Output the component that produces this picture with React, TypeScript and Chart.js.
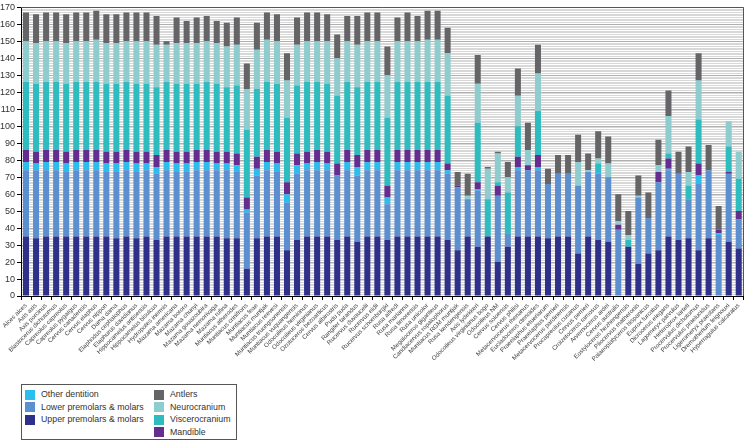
import React, { useEffect, useRef } from 'react';
import { Chart, registerables } from 'chart.js';

Chart.register(...registerables);

const species = [
  'Alces alces', 'Axis axis', 'Axis porcinus', 'Blastocerus dichotomus', 'Capreolus capreolus',
  'Capreolus pygargus', 'Cervus canadensis', 'Cervus elaphus', 'Cervus nippon', 'Dama dama',
  'Elaphodus cephalophus', 'Elaphurus davidianus', 'Hippocamelus antisensis', 'Hippocamelus bisulcus', 'Hydropotes inermis',
  'Mazama americana', 'Mazama bororo', 'Mazama chunyi', 'Mazama gouazoubira', 'Mazama nemorivaga',
  'Mazama rufina', 'Muntiacus atherodes', 'Muntiacus crinifrons', 'Muntiacus feae', 'Muntiacus muntjak',
  'Muntiacus reevesi', 'Muntiacus truongsonensis', 'Muntiacus vuquangensis', 'Odocoileus hemionus', 'Odocoileus virginianus',
  'Ozotoceros bezoarticus', 'Cervus albirostris', 'Pudu puda', 'Rangifer tarandus', 'Rucervus duvaucelii',
  'Rucervus eldii', 'Rucervus schomburgki', 'Rusa alfredi', 'Rusa marianna', 'Rusa timorensis',
  'Rusa unicolor', 'Megaloceros giganteus', 'Candiacervus ropalophorus', 'Muntiacus RGM muntjak', 'Rusa kendengensis',
  'Axis lydekkeri', 'Odocoileus virginianus bogo', 'Odocoileus NM', 'Cervus soloensis', 'Cervus philisi',
  'Metacervocerus rhenanus', 'Eucladoceros ctenoides', 'Praeelaphus etueriarum', 'Praeelaphus perrieri', 'Metacervocerus pardinensis',
  'Procapreolus cusanus', 'Cervus perrieri', 'Croizetoceros ramosus', 'Arvernoceros ardei', 'Cervus australis',
  'Eostyloceros hezhengensis', 'Pliocervus matheronis', 'Palaeoplatyceros hispanicus', 'Euprox furcatus', 'Dicrocerus elegans',
  'Lagomeryx parvulus', 'Heteroprox larteti', 'Procervulus dichotomus', 'Procervulus praelucidus', 'Ligeromeryx praestans',
  'Dremotherium feignouxi', 'Hyperragulus calcaratus'
];

const upperPremolarsMolars = [
  35, 34, 35, 35, 35, 35, 35, 35, 35, 34,
  35, 34, 35, 33, 35, 35, 35, 35, 35, 35,
  34, 34, 16, 34, 35, 35, 27, 33, 35, 35,
  35, 33, 35, 32, 35, 35, 33, 35, 35, 35,
  35, 35, 33, 27, 35, 29, 35, 20, 29, 35,
  35, 35, 34, 35, 35, 25, 35, 33, 32, 0,
  29, 19, 25, 27, 35, 33, 34, 27, 34, 0,
  32, 28
];
const lowerPremolarsMolars = [
  39, 40, 39, 39, 38, 39, 39, 39, 38, 39,
  39, 39, 39, 39, 39, 38, 38, 39, 39, 39,
  40, 39, 33, 37, 39, 38, 28, 39, 39, 39,
  39, 38, 39, 39, 39, 39, 21, 39, 39, 39,
  39, 39, 39, 37, 22, 33, 0, 39, 8, 39,
  39, 39, 32, 37, 37, 40, 38, 39, 38, 39,
  0, 39, 21, 40, 39, 39, 23, 39, 40, 36,
  40, 17
];
const otherDentition = [
  5, 4, 5, 5, 5, 5, 5, 5, 5, 5,
  5, 5, 4, 4, 5, 5, 5, 5, 5, 4,
  4, 4, 2, 4, 5, 5, 5, 5, 4, 5,
  4, 0, 5, 5, 5, 5, 4, 5, 5, 5,
  5, 5, 2, 0, 0, 1, 0, 0, 0, 2,
  0, 2, 0, 0, 0, 0, 0, 1, 0, 0,
  0, 0, 0, 0, 1, 0, 0, 5, 0, 1,
  0, 0
];
const mandible = [
  7, 7, 7, 7, 7, 7, 7, 7, 7, 7,
  7, 7, 7, 7, 7, 7, 7, 7, 7, 7,
  7, 7, 7, 7, 7, 7, 7, 7, 7, 7,
  7, 7, 7, 7, 7, 7, 7, 7, 7, 7,
  7, 7, 4, 1, 0, 4, 0, 6, 0, 6,
  3, 7, 0, 0, 0, 0, 0, 0, 0, 3,
  0, 0, 0, 6, 6, 0, 0, 7, 0, 2,
  1, 5
];
const viscerocranium = [
  40, 40, 40, 40, 40, 40, 40, 40, 40, 40,
  40, 40, 40, 40, 40, 40, 40, 39, 40, 40,
  38, 40, 40, 40, 40, 40, 38, 40, 41, 40,
  40, 40, 40, 40, 40, 40, 40, 40, 40, 40,
  40, 40, 40, 0, 0, 35, 22, 2, 24, 18,
  0, 26, 0, 0, 0, 0, 0, 5, 0, 0,
  4, 0, 0, 0, 3, 0, 8, 26, 0, 0,
  15, 19
];
const neurocranium = [
  24, 24, 24, 24, 24, 24, 24, 25, 24, 24,
  24, 25, 25, 25, 22, 24, 24, 24, 24, 24,
  24, 24, 24, 23, 25, 25, 22, 24, 24, 24,
  25, 22, 24, 25, 24, 24, 25, 24, 24, 24,
  25, 25, 25, 0, 2, 23, 18, 17, 9, 18,
  9, 22, 0, 0, 0, 14, 1, 3, 8, 2,
  3, 1, 0, 4, 22, 0, 8, 23, 0, 0,
  15, 16
];
const antlers = [
  17, 17, 17, 17, 17, 17, 17, 17, 17, 17,
  17, 17, 17, 17, 2, 15, 13, 15, 15, 13,
  14, 16, 15, 16, 16, 16, 16, 16, 17, 17,
  16, 14, 15, 17, 17, 17, 17, 14, 17, 15,
  17, 17, 15, 8, 13, 17, 1, 1, 9, 16,
  16, 17, 9, 11, 11, 16, 10, 16, 16, 16,
  14, 12, 15, 15, 15, 13, 15, 16, 15, 14,
  0, 0
];

const seriesNames = [
  'Upper premolars & molars', 'Lower premolars & molars', 'Other dentition', 'Mandible',
  'Viscerocranium', 'Neurocranium', 'Antlers'
];
const seriesColors = ['#2e3089', '#5b8fcf', '#2cbcee', '#662d91', '#2fbcbf', '#8ecccd', '#656567'];
const seriesData = [
  upperPremolarsMolars, lowerPremolarsMolars, otherDentition, mandible,
  viscerocranium, neurocranium, antlers
];
// legend columns (indices into series arrays)
const legendCol1 = [2, 1, 0];
const legendCol2 = [6, 5, 4, 3];

const Y_MAX = 170;
const FONT = '"Liberation Sans", Arial, Helvetica, sans-serif';

const framePlugin = {
  id: 'frame',
  afterDraw(chart: any) {
    const { ctx, chartArea } = chart;
    ctx.save();
    ctx.strokeStyle = '#555';
    ctx.lineWidth = 1;
    ctx.beginPath();
    ctx.moveTo(chartArea.left, Math.round(chartArea.top) + 0.5);
    ctx.lineTo(Math.round(chartArea.right) - 0.5, Math.round(chartArea.top) + 0.5);
    ctx.lineTo(Math.round(chartArea.right) - 0.5, chartArea.bottom);
    ctx.stroke();
    ctx.restore();
  }
};

export default function App() {
  const ref = useRef<HTMLCanvasElement>(null);

  useEffect(() => {
    if (!ref.current) return;
    const datasets = seriesData.map((d, i) => ({
      label: seriesNames[i],
      data: d,
      backgroundColor: seriesColors[i],
      borderWidth: 0,
      barPercentage: 0.6,
      categoryPercentage: 1
    }));
    const chart = new Chart(ref.current, {
      type: 'bar',
      data: { labels: species, datasets },
      options: {
        animation: false,
        responsive: false,
        maintainAspectRatio: false,
        layout: { padding: { left: 0, right: 1.5, top: 0, bottom: 0 } },
        plugins: { legend: { display: false }, tooltip: { enabled: false } },
        scales: {
          x: {
            stacked: true,
            offset: true,
            grid: { drawOnChartArea: false, color: '#000', tickLength: 4, offset: true },
            border: { color: '#000', width: 1 },
            ticks: {
              autoSkip: false,
              minRotation: 45,
              maxRotation: 45,
              padding: 2,
              color: '#444',
              font: { family: FONT, size: 6.2 }
            },
            afterFit: (s: any) => { s.height = 88; }
          },
          y: {
            stacked: true,
            min: 0,
            max: Y_MAX,
            ticks: {
              stepSize: 1,
              autoSkip: false,
              padding: 2,
              color: '#333',
              font: { family: FONT, size: 9 },
              callback: (v: any) => (Number(v) % 10 === 0 ? String(v) : '')
            },
            grid: {
              color: (c: any) => (c.tick && c.tick.value % 10 === 0 ? '#b0b0b0' : '#d8d8d8'),
              tickColor: (c: any) => (c.tick && c.tick.value % 10 === 0 ? '#000' : 'rgba(0,0,0,0)'),
              tickLength: 4,
              lineWidth: 1
            },
            border: { color: '#000', width: 1 },
            afterFit: (s: any) => { s.width = 21; }
          }
        }
      },
      plugins: [framePlugin]
    });
    return () => chart.destroy();
  }, []);

  const legendItem = (idx: number, left: number, row: number) => (
    <div key={idx} style={{ position: 'absolute', left, top: 389 + row * 12.6, height: 11, display: 'flex', alignItems: 'center' }}>
      <div style={{ width: 10, height: 10, background: seriesColors[idx], marginRight: 6, flexShrink: 0 }} />
      <span style={{ fontFamily: FONT, fontSize: 8.8, color: '#333', whiteSpace: 'nowrap', lineHeight: '11px' }}>{seriesNames[idx]}</span>
    </div>
  );

  return (
    <div style={{ position: 'absolute', left: 0, top: 0, width: 746, height: 441, background: '#fff', overflow: 'hidden' }}>
      <canvas ref={ref} width={746} height={384} style={{ position: 'absolute', left: 0, top: 0, width: 746, height: 384 }} />
      <div style={{ position: 'absolute', left: 21, top: 384, width: 216, height: 56, border: '1px solid #555', boxSizing: 'border-box' }} />
      {legendCol1.map((idx, r) => legendItem(idx, 25, r))}
      {legendCol2.map((idx, r) => legendItem(idx, 154, r))}
    </div>
  );
}
